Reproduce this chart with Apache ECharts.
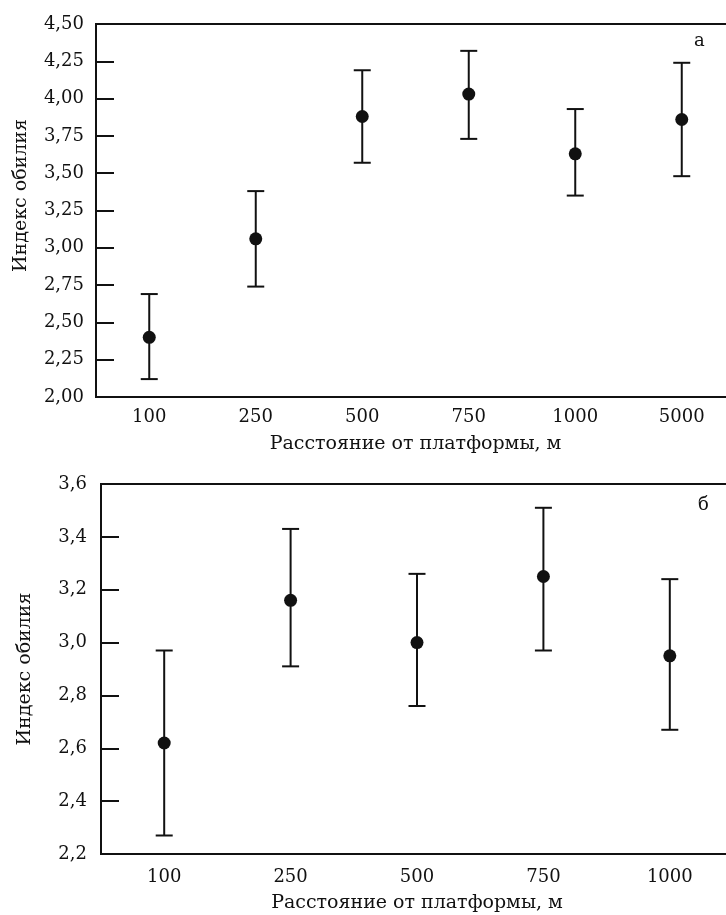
<!DOCTYPE html>
<html>
<head>
<meta charset="utf-8">
<script src="https://cdn.jsdelivr.net/npm/echarts@6/dist/echarts.min.js"></script>
<style>
  html, body { margin: 0; padding: 0; background: #fff; }
  #main { width: 726px; height: 915px; }
</style>
</head>
<body>
<div id="main"></div>
<script>
// панель а
var catsA = ['100', '250', '500', '750', '1000', '5000'];
var meanA = [2.40, 3.06, 3.88, 4.03, 3.63, 3.86];
var lowA = [2.12, 2.74, 3.57, 3.73, 3.35, 3.48];
var highA = [2.69, 3.38, 4.19, 4.32, 3.93, 4.24];
// панель б
var catsB = ['100', '250', '500', '750', '1000'];
var meanB = [2.62, 3.16, 3.00, 3.25, 2.95];
var lowB = [2.27, 2.91, 2.76, 2.97, 2.67];
var highB = [2.97, 3.43, 3.26, 3.51, 3.24];

var font = 'DejaVu Serif';
var ink = '#111';
var chart = echarts.init(document.getElementById('main'));

function errData(low, high) {
	return low.map(function(v, i) { return [i, v, high[i]]; });
}

// вертикальная линия с засечками
function renderErr(params, api) {
	var lo = api.coord([api.value(0), api.value(1)]);
	var hi = api.coord([api.value(0), api.value(2)]);
	var w = 8.5;
	var style = { stroke: ink, lineWidth: 2 };
	return {
		type: 'group',
		children: [
			{ type: 'line', shape: { x1: lo[0], y1: lo[1], x2: hi[0], y2: hi[1] }, style: style },
			{ type: 'line', shape: { x1: lo[0] - w, y1: lo[1], x2: lo[0] + w, y2: lo[1] }, style: style },
			{ type: 'line', shape: { x1: hi[0] - w, y1: hi[1], x2: hi[0] + w, y2: hi[1] }, style: style }
		]
	};
}

function xAxisOf(cats, idx, labelMargin, gap) {
	return {
		type: 'category',
		gridIndex: idx,
		data: cats,
		boundaryGap: true,
		name: 'Расстояние от платформы, м',
		nameLocation: 'middle',
		nameGap: gap,
		nameTextStyle: { fontFamily: font, fontSize: 19, color: ink },
		axisLine: { lineStyle: { color: ink, width: 2 } },
		axisTick: { inside: true, alignWithLabel: true, length: 18, lineStyle: { color: ink, width: 2 } },
		axisLabel: { fontFamily: font, fontSize: 18, color: ink, margin: labelMargin },
		splitLine: { show: false }
	};
}

function yAxisOf(min, max, step, digits, idx, labelMargin, gap, namePad) {
	return {
		type: 'value',
		gridIndex: idx,
		min: min,
		max: max,
		interval: step,
		name: 'Индекс обилия',
		nameLocation: 'middle',
		nameGap: gap,
		nameTextStyle: { fontFamily: font, fontSize: 19, color: ink, padding: namePad },
		axisLine: { show: true, lineStyle: { color: ink, width: 2 } },
		axisTick: { show: true, inside: true, length: 18, lineStyle: { color: ink, width: 2 } },
		axisLabel: {
			fontFamily: font, fontSize: 18, color: ink, margin: labelMargin,
			formatter: function(v) { return v.toFixed(digits).replace('.', ','); }
		},
		splitLine: { show: false }
	};
}

chart.setOption({
	backgroundColor: '#fff',
	animation: false,
	grid: [
		{ left: 96, right: -9, top: 24, bottom: 518, outerBoundsMode: 'none', show: true, borderColor: ink, borderWidth: 2 },
		{ left: 101, right: -7, top: 484, bottom: 61, outerBoundsMode: 'none', show: true, borderColor: ink, borderWidth: 2 }
	],
	xAxis: [xAxisOf(catsA, 0, 11, 38), xAxisOf(catsB, 1, 14, 40)],
	yAxis: [
		yAxisOf(2, 4.5, 0.25, 2, 0, 12, 65, [0, 0, 0, 30]),
		yAxisOf(2.2, 3.6, 0.2, 1, 1, 14, 66, [0, 0, 0, 0])
	],
	graphic: [
		{ type: 'text', left: 694, top: 32, style: { text: 'а', font: '18px "' + font + '"', fill: ink } },
		{ type: 'text', left: 698, top: 496, style: { text: 'б', font: '18px "' + font + '"', fill: ink } }
	],
	series: [
		{ type: 'custom', xAxisIndex: 0, yAxisIndex: 0, renderItem: renderErr, data: errData(lowA, highA), z: 2 },
		{ type: 'scatter', xAxisIndex: 0, yAxisIndex: 0, data: meanA, symbolSize: 13, itemStyle: { color: ink, opacity: 1 }, z: 3 },
		{ type: 'custom', xAxisIndex: 1, yAxisIndex: 1, renderItem: renderErr, data: errData(lowB, highB), z: 2 },
		{ type: 'scatter', xAxisIndex: 1, yAxisIndex: 1, data: meanB, symbolSize: 13, itemStyle: { color: ink, opacity: 1 }, z: 3 }
	]
});
</script>
</body>
</html>
